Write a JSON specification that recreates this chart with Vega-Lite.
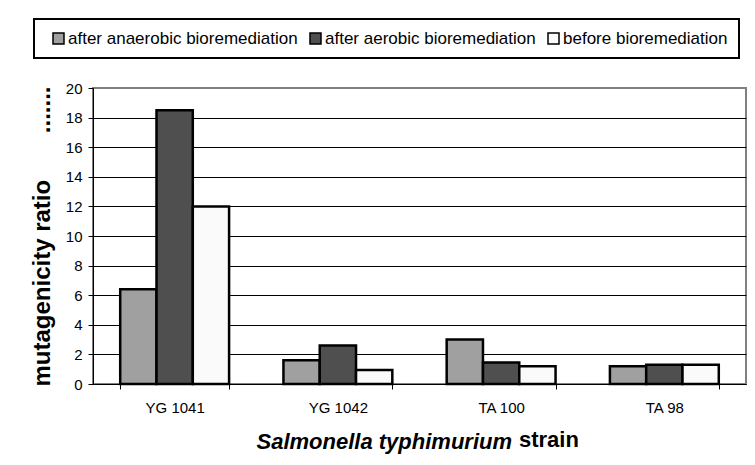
{
  "$schema": "https://vega.github.io/schema/vega-lite/v6.json",
  "width": 653,
  "height": 296,
  "autosize": "none",
  "padding": {"left": 93, "top": 88, "right": 9, "bottom": 81},
  "background": "white",
  "data": {
    "values": [
      {"strain": "YG 1041", "treatment": "after anaerobic bioremediation", "ratio": 6.4},
      {"strain": "YG 1041", "treatment": "after aerobic bioremediation", "ratio": 18.5},
      {"strain": "YG 1041", "treatment": "before bioremediation", "ratio": 12.0},
      {"strain": "YG 1042", "treatment": "after anaerobic bioremediation", "ratio": 1.6},
      {"strain": "YG 1042", "treatment": "after aerobic bioremediation", "ratio": 2.6},
      {"strain": "YG 1042", "treatment": "before bioremediation", "ratio": 0.95},
      {"strain": "TA 100", "treatment": "after anaerobic bioremediation", "ratio": 3.0},
      {"strain": "TA 100", "treatment": "after aerobic bioremediation", "ratio": 1.45},
      {"strain": "TA 100", "treatment": "before bioremediation", "ratio": 1.2},
      {"strain": "TA 98", "treatment": "after anaerobic bioremediation", "ratio": 1.2},
      {"strain": "TA 98", "treatment": "after aerobic bioremediation", "ratio": 1.3},
      {"strain": "TA 98", "treatment": "before bioremediation", "ratio": 1.3}
    ]
  },
  "mark": {"type": "bar", "stroke": "black", "strokeWidth": 2.5},
  "encoding": {
    "x": {
      "field": "strain",
      "type": "nominal",
      "sort": ["YG 1041", "YG 1042", "TA 100", "TA 98"],
      "scale": {"paddingInner": 0.333, "paddingOuter": 0.1667},
      "title": "Salmonella typhimurium",
      "axis": {
        "labelAngle": 0,
        "tickBand": "extent",
        "tickSize": 5,
        "tickColor": "black",
        "domainColor": "black",
        "domainWidth": 1,
        "labelFontSize": 15,
        "labelColor": "black",
        "labelPadding": 11,
        "titleFontSize": 22,
        "titleFontWeight": "bold",
        "titleFontStyle": "italic",
        "titleColor": "black",
        "titlePadding": 16,
        "titleX": 163,
        "titleAlign": "left",
        "titleAnchor": "start"
      }
    },
    "xOffset": {
      "field": "treatment",
      "type": "nominal",
      "sort": ["after anaerobic bioremediation", "after aerobic bioremediation", "before bioremediation"],
      "scale": {"paddingInner": 0, "paddingOuter": 0}
    },
    "y": {
      "field": "ratio",
      "type": "quantitative",
      "scale": {"domain": [0, 20], "nice": false},
      "title": "mutagenicity ratio\u00a0\u00a0\u00a0\u00a0\u00a0\u00a0\u00a0.......",
      "axis": {
        "values": [0, 2, 4, 6, 8, 10, 12, 14, 16, 18, 20],
        "grid": true,
        "gridColor": {"condition": {"test": "datum.value === 20", "value": "#808080"}, "value": "black"},
        "gridWidth": 1,
        "tickSize": 5,
        "tickColor": "black",
        "domainColor": "black",
        "labelFontSize": 15,
        "labelColor": "black",
        "labelPadding": 6,
        "titleFontSize": 24,
        "titleFontWeight": "bold",
        "titleColor": "black",
        "titlePadding": 11
      }
    },
    "color": {
      "field": "treatment",
      "type": "nominal",
      "sort": ["after anaerobic bioremediation", "after aerobic bioremediation", "before bioremediation"],
      "scale": {
        "domain": ["after anaerobic bioremediation", "after aerobic bioremediation", "before bioremediation"],
        "range": ["#a0a0a0", "#4f4f4f", "#fafafa"]
      },
      "legend": {
        "orient": "none",
        "legendX": -59,
        "legendY": -69,
        "direction": "horizontal",
        "title": null,
        "strokeColor": "black",
        "fillColor": "white",
        "padding": 11,
        "labelFontSize": 17,
        "labelColor": "black",
        "labelOffset": 1,
        "symbolType": "square",
        "symbolSize": 121,
        "symbolStrokeColor": "black",
        "symbolStrokeWidth": 1.5,
        "symbolOffset": 5,
        "columnPadding": 4,
        "labelLimit": 400
      }
    }
  },
  "title": {
    "text": "strain",
    "orient": "bottom",
    "anchor": "start",
    "frame": "group",
    "dx": 426,
    "offset": -22,
    "fontSize": 22,
    "fontWeight": "bold",
    "color": "black"
  },
  "config": {
    "font": "Liberation Sans",
    "view": {"stroke": "#808080", "strokeWidth": 2},
    "legend": {"strokeWidth": 2}
  }
}
